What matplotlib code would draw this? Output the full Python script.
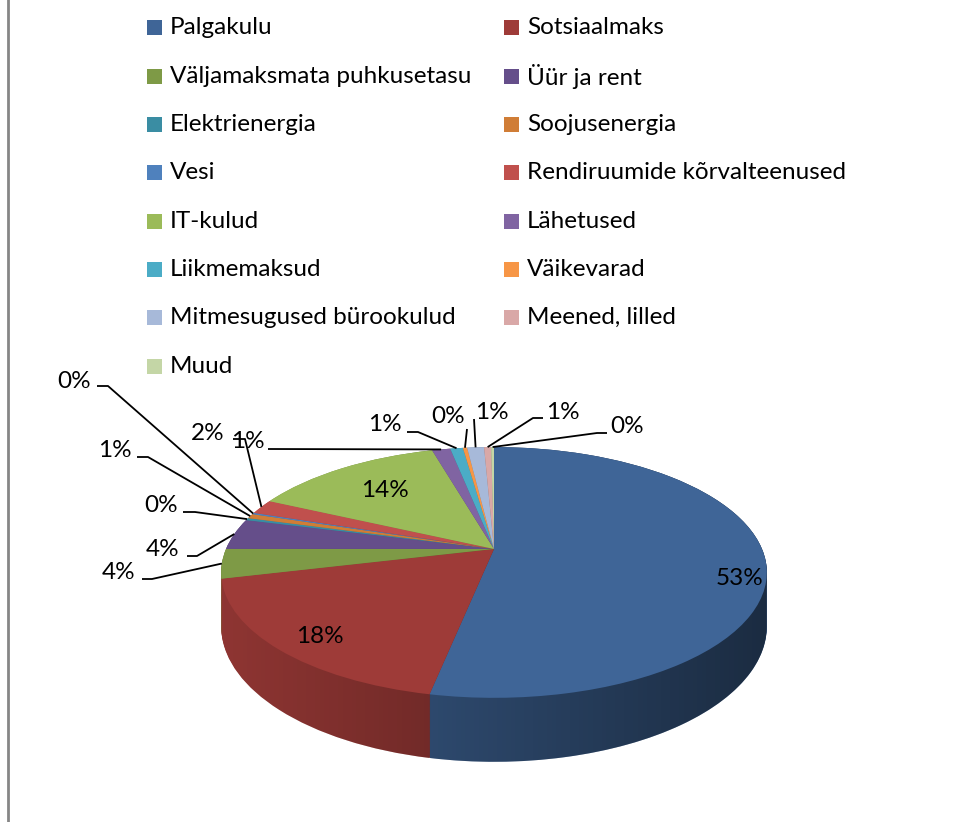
import numpy as np
import matplotlib
matplotlib.use("Agg")
import matplotlib.pyplot as plt
from matplotlib.transforms import Transform
from matplotlib.patches import Rectangle, Polygon
from matplotlib.lines import Line2D

plt.rcParams['font.family'] = ['Lato', 'DejaVu Sans']

# --- data ---
categories = ["Palgakulu", "Sotsiaalmaks", "Väljamaksmata puhkusetasu", "Üür ja rent",
              "Elektrienergia", "Soojusenergia", "Vesi", "Rendiruumide kõrvalteenused",
              "IT-kulud", "Lähetused", "Liikmemaksud", "Väikevarad",
              "Mitmesugused bürookulud", "Meened, lilled", "Muud"]
shares = [53.2, 18.1, 3.8, 4.0, 0.3, 0.6, 0.2, 1.9, 13.6, 1.3, 0.9, 0.3, 1.2, 0.5, 0.2]
pct_labels = ["53%", "18%", "4%", "4%", "0%", "1%", "0%", "2%",
              "14%", "1%", "1%", "0%", "1%", "1%", "0%"]
colors = ["#3F6597", "#9E3B38", "#7E9A46", "#654E8A", "#3A8DA3", "#D07D36",
          "#4F81BD", "#C0504D", "#9BBB59", "#8064A2", "#4BACC6", "#F79646",
          "#A7B9D9", "#D9A8A7", "#C4D6A6"]

W, H = 970, 822
FS = 17.5
# perspective of the 3d disc (pixels)
CX, CY = 494, 549
A, B, P = 268, 121, 0.187
THICK = 52


class Persp(Transform):
    input_dims = 2
    output_dims = 2

    def __init__(self, drop=0.0):
        super().__init__()
        self.drop = drop

    def transform_non_affine(self, xy):
        xy = np.asarray(xy, dtype=float)
        w = 1 + P * xy[:, 1]
        return np.column_stack([CX + A * xy[:, 0] / w,
                                CY + (self.drop - B * xy[:, 1]) / w])


fig = plt.figure(figsize=(W / 100, H / 100), dpi=100)
ax = fig.add_axes([0, 0, 1, 1])


def draw_pie(drop, z):
    wedges, _ = ax.pie(shares, colors=colors, startangle=90, counterclock=False,
                       wedgeprops=dict(linewidth=0))
    for w in wedges:
        w.set_transform(Persp(drop) + ax.transData)
        w.set_zorder(z)
    return wedges


# side wall: stacked discs
n_layers = 64
for k in range(n_layers):
    draw_pie(THICK * (1 - k / (n_layers - 1)), 1)

# darkening gradient on the side wall
s = np.arcsin(P)
t_back = np.linspace(-s, np.pi + s, 200)
t_front = np.linspace(np.pi + s, 2 * np.pi - s, 200)
top_pts = Persp(0).transform(np.column_stack([np.cos(t_back), np.sin(t_back)]))
bot_pts = Persp(THICK).transform(np.column_stack([np.cos(t_front), np.sin(t_front)]))
clip = Polygon(np.vstack([top_pts, bot_pts]), closed=True, transform=ax.transData)
grad = np.zeros((2, 256, 4))
grad[..., 3] = np.linspace(0.10, 0.57, 256)[None, :]
img = ax.imshow(grad, extent=(CX - 1.02 * A, CX + 1.02 * A, 780, 430),
                aspect='auto', zorder=2, interpolation='bilinear')
img.set_clip_path(clip)

# top face
top_wedges = draw_pie(0, 3)

ax.set_xlim(0, W)
ax.set_ylim(H, 0)
ax.set_aspect('auto')
ax.axis('off')

# labels inside
inside = {0: (740, 578), 1: (320, 636), 8: (385, 490)}
for i, (x, y) in inside.items():
    ax.text(x, y, pct_labels[i], fontsize=FS, ha='center', va='center', zorder=5)

# labels outside with leader lines: text centre, leader points before the anchor
outside = {
    2: ((119, 572), [(142, 579), (152, 579)]),
    3: ((163, 549), [(187, 556), (197, 556)]),
    4: ((161, 505), [(183, 512), (195, 512)]),
    5: ((115, 450), [(137, 457), (148, 457)]),
    6: ((74, 381), [(97, 386), (108, 386)]),
    7: ((208, 433), [(233, 439), (245, 439)]),
    9: ((248, 441), [(268, 449)]),
    10: ((385, 424), [(407, 432), (418, 432)]),
    11: ((448, 416), [(467, 429)]),
    12: ((492, 412), [(474, 419)]),
    13: ((563, 412), [(543, 418), (533, 418)]),
    14: ((627, 426), [(607, 433), (597, 433)]),
}
cum = np.cumsum([0] + shares) / sum(shares)
for i, ((tx, ty), pts) in outside.items():
    mid = (cum[i] + cum[i + 1]) / 2
    ang = np.pi / 2 - 2 * np.pi * mid
    anchor = Persp(0).transform(np.array([[np.cos(ang), np.sin(ang)]]))[0]
    xs = [p[0] for p in pts] + [anchor[0]]
    ys = [p[1] for p in pts] + [anchor[1]]
    ax.plot(xs, ys, color='black', lw=1.3, zorder=6, solid_capstyle='butt')
    ax.text(tx, ty, pct_labels[i], fontsize=FS, ha='center', va='center', zorder=7)

# legend, two columns filled row by row
for i, name in enumerate(categories):
    row, col = divmod(i, 2)
    x0 = [147, 504][col]
    y0 = 28 + row * 48.3
    ax.add_patch(Rectangle((x0, y0 - 7.5), 15, 15, facecolor=top_wedges[i].get_facecolor(),
                           edgecolor='none', zorder=5))
    ax.text(x0 + 23, y0, name, fontsize=FS, ha='left', va='center', zorder=5)

# frame line on the left
fig.add_artist(Line2D([8.5 / W, 8.5 / W], [0, 1], transform=fig.transFigure,
                      color='#868686', lw=2))

plt.savefig("out.png", dpi=100)
